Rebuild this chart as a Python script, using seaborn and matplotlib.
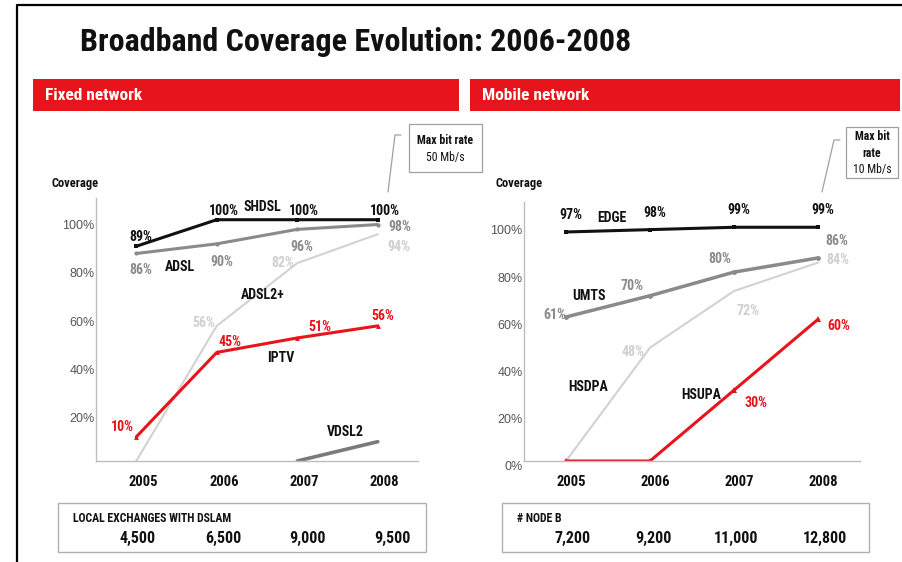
import numpy as np
import pandas as pd
import matplotlib
matplotlib.use("Agg")
import matplotlib.pyplot as plt
import matplotlib.transforms as mtransforms
from matplotlib.patches import Rectangle
from matplotlib.lines import Line2D
from matplotlib import font_manager
import seaborn as sns

# ---- data -------------------------------------------------------------
years = [2005, 2006, 2007, 2008]

shdsl = [89, 100, 100, 100]
adsl = [86, 90, 96, 98]
adsl2plus = [0, 56, 82, 94]
iptv = [10, 45, 51, 56]
vdsl2_years = [2007, 2008]
vdsl2 = [0, 8]

edge = [97, 98, 99, 99]
umts = [61, 70, 80, 86]
hsdpa = [0, 48, 72, 84]
hsupa = [0, 0, 30, 60]

dslam_exchanges = [4500, 6500, 9000, 9500]
node_b = [7200, 9200, 11000, 12800]

fixed_ticks = [20, 40, 60, 80, 100]
mobile_ticks = [0, 20, 40, 60, 80, 100]

# ---- style --------------------------------------------------------------
sns.set_theme(style="white")
available = {f.name for f in font_manager.fontManager.ttflist}
narrow = next((n for n in ["Liberation Sans Narrow", "Roboto Condensed",
                           "Open Sans Condensed", "Arial Narrow"]
               if n in available), "Liberation Sans")
plt.rcParams["font.family"] = [narrow, "DejaVu Sans"]
TICK_FONT = ["Liberation Sans", "DejaVu Sans"]

RED = "#e8141b"
BLACK = "#111111"
GREY = "#8a8a8a"
LIGHT = "#d2d2d2"
AXIS = "#bdbdbd"

W, H = 903, 562
fig = plt.figure(figsize=(W / 100, H / 100), dpi=100)


def fx(px):
    return px / W


def fy(py):
    return 1 - py / H


def axes_px(x0, y0, x1, y1):
    return fig.add_axes([fx(x0), fy(y1), fx(x1) - fx(x0), fy(y0) - fy(y1)])


# ---- frame, title, banners ----------------------------------------------
fig.add_artist(Line2D([fx(17), fx(17), fx(903)], [fy(562), fy(5), fy(5)],
                      color="black", lw=1.6, transform=fig.transFigure))
fig.text(fx(80), fy(42), "Broadband Coverage Evolution: 2006-2008",
         fontsize=23, fontweight="bold", ha="left", va="center", color=BLACK)

for (x0, x1, label) in [(33, 459, "Fixed network"), (470, 900, "Mobile network")]:
    fig.add_artist(Rectangle((fx(x0), fy(111)), fx(x1) - fx(x0), fy(79) - fy(111),
                             transform=fig.transFigure, color=RED, lw=0))
    fig.text(fx(x0 + 12), fy(96), label, fontsize=12.5, fontweight="bold",
             color="white", ha="left", va="center")


def bitrate_box(x0, y0, x1, y1, lines, leader):
    fig.add_artist(Rectangle((fx(x0), fy(y1)), fx(x1) - fx(x0), fy(y0) - fy(y1),
                             transform=fig.transFigure, fill=False,
                             edgecolor="#a0a0a0", lw=0.9))
    for text, ypos, weight in lines:
        fig.text(fx((x0 + x1) / 2), fy(ypos), text, fontsize=8.5,
                 fontweight=weight, ha="center", va="center", color=BLACK)
    xs, ys = zip(*leader)
    fig.add_artist(Line2D([fx(v) for v in xs], [fy(v) for v in ys],
                          color="#a0a0a0", lw=0.9, transform=fig.transFigure))


bitrate_box(409, 124, 482, 172,
            [("Max bit rate", 141, "bold"), ("50 Mb/s", 158, "normal")],
            [(401, 135), (395, 135), (388, 192)])
bitrate_box(846, 127, 898, 178,
            [("Max bit", 137, "bold"), ("rate", 153, "bold"), ("10 Mb/s", 170, "normal")],
            [(840, 140), (834, 140), (822, 192)])

fig.text(fx(52), fy(183), "Coverage", fontsize=9, fontweight="bold",
         ha="left", va="center", color=BLACK)
fig.text(fx(495), fy(183), "Coverage", fontsize=9, fontweight="bold",
         ha="left", va="center", color=BLACK)


# ---- line charts --------------------------------------------------------
def style_axes(ax, ytop, yticks, tick_x_shift):
    ax.set_xlim(2004.5, 2008.5)
    ax.set_ylim(0, ytop)
    sns.despine(ax=ax)
    for side in ("left", "bottom"):
        ax.spines[side].set_color(AXIS)
        ax.spines[side].set_linewidth(1.0)
    ax.set_xticks(years)
    ax.set_xticklabels([str(y) for y in years], fontsize=10.5,
                       fontweight="bold", color=BLACK)
    ax.set_xticks([2004.5 + i for i in range(5)], minor=True)
    ax.tick_params(axis="x", which="major", length=0, pad=10)
    ax.tick_params(axis="x", which="minor", length=4, direction="inout",
                   color=AXIS, width=1)
    ax.set_yticks(yticks)
    ax.set_yticklabels([f"{v}%" for v in yticks], fontsize=9, color="#555555",
                       family=TICK_FONT)
    ax.tick_params(axis="y", length=0, pad=1)
    ax.set_xlabel("")
    ax.set_ylabel("")
    xoff = mtransforms.ScaledTranslation(tick_x_shift / 100, 0, fig.dpi_scale_trans)
    for lab in ax.get_xticklabels():
        lab.set_transform(lab.get_transform() + xoff)
    yoff = mtransforms.ScaledTranslation(0, -5 / 100, fig.dpi_scale_trans)
    for lab in ax.get_yticklabels():
        lab.set_transform(lab.get_transform() + yoff)


def draw_series(ax, xs, values, color, lw, marker, ms):
    df = pd.DataFrame({"year": xs, "coverage": values})
    sns.lineplot(data=df, x="year", y="coverage", ax=ax, color=color,
                 linewidth=lw, marker=marker, markersize=ms,
                 markeredgewidth=0, legend=False)


def value_labels(ax, values, offsets, color):
    for yr, v, off in zip(years, values, offsets):
        if off is None:
            continue
        ax.annotate(f"{v}%", (yr, v), xytext=off, textcoords="offset pixels",
                    ha="center", va="center", fontsize=10, fontweight="bold",
                    color=color)


def series_name(ax, x, y, text):
    ax.text(x, y, text, ha="center", va="center", fontsize=10,
            fontweight="bold", color=BLACK)


# Fixed network
ax1 = axes_px(96, 198, 418, 461)
draw_series(ax1, years, adsl2plus, LIGHT, 1.5, None, 0)
draw_series(ax1, years, adsl, GREY, 2.2, "o", 3)
draw_series(ax1, years, shdsl, BLACK, 2.2, "s", 3.5)
draw_series(ax1, years, iptv, RED, 2.2, "^", 3.5)
draw_series(ax1, vdsl2_years, vdsl2, "#7a7a7a", 2.6, None, 0)
style_axes(ax1, 109, fixed_ticks, 7)

value_labels(ax1, shdsl, [(5, 9), (7, 9), (7, 9), (7, 9)], BLACK)
value_labels(ax1, adsl, [(5, -17), (5, -18), (5, -18), (22, -2)], GREY)
value_labels(ax1, adsl2plus, [None, (-13, 3), (-14, 0), (21, -13)], "#cfcfcf")
value_labels(ax1, iptv, [(-14, 10), (13, 10), (23, 11), (5, 10)], RED)
series_name(ax1, 2006.57, 105.4, "SHDSL")
series_name(ax1, 2005.54, 80.5, "ADSL")
series_name(ax1, 2006.57, 68.9, "ADSL2+")
series_name(ax1, 2006.80, 42.7, "IPTV")
series_name(ax1, 2007.60, 12.0, "VDSL2")

# Mobile network
ax2 = axes_px(524, 202, 860, 461)
draw_series(ax2, years, hsdpa, LIGHT, 1.5, None, 0)
draw_series(ax2, years, umts, GREY, 2.5, "o", 3.5)
draw_series(ax2, years, edge, BLACK, 2.2, "s", 3.5)
draw_series(ax2, years, hsupa, RED, 2.2, "^", 4)
style_axes(ax2, 109.7, mobile_ticks, 5)

value_labels(ax2, edge, [(5, 17), (5, 17), (5, 17), (5, 17)], BLACK)
value_labels(ax2, umts, [(-11, 2), (-18, 10), (-14, 13), (19, 17)], GREY)
value_labels(ax2, hsdpa, [None, (-17, -4), (14, -20), (20, 3)], "#cfcfcf")
value_labels(ax2, hsupa, [None, None, (22, -13), (21, -7)], RED)
series_name(ax2, 2005.55, 103.0, "EDGE")
series_name(ax2, 2005.27, 69.9, "UMTS")
series_name(ax2, 2005.26, 31.4, "HSDPA")
series_name(ax2, 2006.61, 28.0, "HSUPA")


# ---- infrastructure counts ----------------------------------------------
def count_box(x0, x1, title, counts, centers):
    fig.add_artist(Rectangle((fx(x0), fy(552)), fx(x1) - fx(x0), fy(503) - fy(552),
                             transform=fig.transFigure, fill=False,
                             edgecolor="#b0b0b0", lw=1.0))
    fig.text(fx(x0 + 15), fy(519), title, fontsize=8.5, fontweight="bold",
             ha="left", va="center", color=BLACK)
    for c, cx in zip(counts, centers):
        fig.text(fx(cx), fy(538), f"{c:,}", fontsize=11.5, fontweight="bold",
                 ha="center", va="center", color=BLACK)


count_box(58, 426, "LOCAL EXCHANGES WITH DSLAM", dslam_exchanges,
          [138, 223, 307, 392])
count_box(502, 869, "# NODE B", node_b, [573, 653, 736, 825])

fig.savefig("out.png", dpi=100)
